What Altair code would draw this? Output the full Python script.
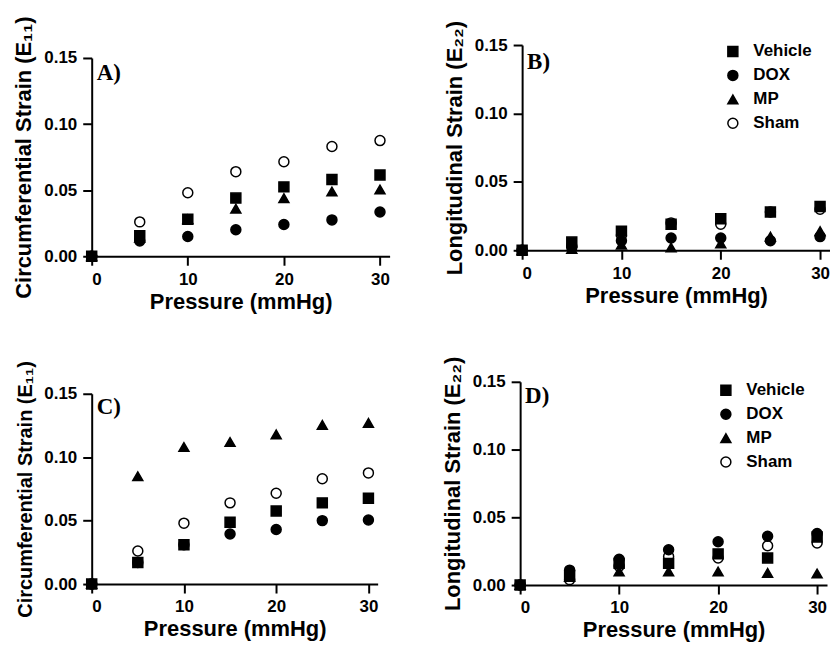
import altair as alt
import pandas as pd

pressure = [0, 5, 10, 15, 20, 25, 30]
groups = ["Vehicle", "DOX", "MP", "Sham"]
draw_order = ["Sham", "MP", "DOX", "Vehicle"]
shapes = ["square", "circle", "triangle-up", "circle"]
fills = ["black", "black", "black", "white"]
strokes = ["black", "black", "black", "black"]
panel_labels = ["A)", "B)", "C)", "D)"]

# Panel A: circumferential strain (E11)
a_vehicle = [0, 0.0155, 0.028, 0.044, 0.0525, 0.058, 0.0615]
a_dox = [0, 0.0115, 0.015, 0.020, 0.024, 0.0275, 0.0335]
a_mp = [0, 0.014, 0.028, 0.036, 0.044, 0.049, 0.0505]
a_sham = [0, 0.026, 0.048, 0.064, 0.0715, 0.083, 0.0875]

# Panel B: longitudinal strain (E22)
b_vehicle = [0, 0.006, 0.014, 0.019, 0.023, 0.028, 0.032]
b_dox = [0, 0.002, 0.007, 0.009, 0.009, 0.007, 0.010]
b_mp = [0, 0.001, 0.004, 0.002, 0.005, 0.010, 0.014]
b_sham = [0, 0.003, 0.011, 0.020, 0.019, 0.028, 0.030]

# Panel C: circumferential strain (E11)
c_vehicle = [0, 0.017, 0.031, 0.0487, 0.0576, 0.064, 0.0676]
c_dox = [0, 0.017, 0.031, 0.0395, 0.043, 0.050, 0.0505]
c_mp = [0, 0.085, 0.108, 0.112, 0.118, 0.1255, 0.127]
c_sham = [0, 0.026, 0.048, 0.064, 0.0716, 0.083, 0.0876]

# Panel D: longitudinal strain (E22)
d_vehicle = [0, 0.007, 0.016, 0.016, 0.023, 0.020, 0.0355]
d_dox = [0, 0.011, 0.019, 0.026, 0.032, 0.036, 0.038]
d_mp = [0, 0.006, 0.010, 0.010, 0.010, 0.009, 0.0085]
d_sham = [0, 0.004, 0.014, 0.021, 0.020, 0.029, 0.031]

y_e11 = "Circumferential Strain (E\u2081\u2081)"
y_e22 = "Longitudinal Strain (E\u2082\u2082)"


def make_df(series):
    rows = []
    for g in draw_order:
        for p, v in zip(pressure, series[g]):
            rows.append({"pressure": p, "strain": v, "group": g,
                         "draw": draw_order.index(g)})
    return pd.DataFrame(rows)


def panel(series, ytitle, label, w, h, top_off=0, ytitle_size=22, legend_xy=None,
          label_base=22, ytitle_pad=8):
    df = make_df(series)
    if legend_xy is None:
        leg = None
    else:
        leg = alt.Legend(title=None, orient="none", legendX=legend_xy[0],
                         legendY=legend_xy[1], labelFont="Liberation Sans",
                         labelFontWeight="bold", labelFontSize=17,
                         labelColor="black", symbolSize=100,
                         symbolStrokeWidth=1.5, symbolStrokeColor="black",
                         rowPadding=6, labelOffset=12, padding=0)
    view_h = h + top_off
    pts = alt.Chart(df).mark_point(
        filled=True, size=100, strokeWidth=1.5, opacity=1
    ).encode(
        x=alt.X("pressure:Q", scale=alt.Scale(domain=[0, 31], nice=False),
                axis=alt.Axis(values=[0, 10, 20, 30], title="Pressure (mmHg)",
                              titlePadding=4)),
        y=alt.Y("strain:Q",
                scale=alt.Scale(domain=[0, 0.15], nice=False, range=[view_h, top_off]),
                axis=alt.Axis(values=[0, 0.05, 0.10, 0.15], format=".2f",
                              title=ytitle, titleFontSize=ytitle_size,
                              titlePadding=ytitle_pad)),
        shape=alt.Shape("group:N", scale=alt.Scale(domain=groups, range=shapes),
                        legend=leg),
        fill=alt.Fill("group:N", scale=alt.Scale(domain=groups, range=fills),
                      legend=leg),
        stroke=alt.Stroke("group:N", scale=alt.Scale(domain=groups, range=strokes),
                          legend=leg),
        order=alt.Order("draw:Q"),
    )
    txt = alt.Chart(pd.DataFrame({"label": [label]})).mark_text(
        align="left", baseline="alphabetic", font="Liberation Serif",
        fontWeight="bold", fontSize=23, color="black"
    ).encode(x=alt.value(5), y=alt.value(top_off + label_base), text="label:N")
    return alt.layer(pts, txt).properties(width=w, height=view_h)


A = panel({"Vehicle": a_vehicle, "DOX": a_dox, "MP": a_mp, "Sham": a_sham},
          y_e11, panel_labels[0], 299, 199, top_off=13, ytitle_size=22)
B = panel({"Vehicle": b_vehicle, "DOX": b_dox, "MP": b_mp, "Sham": b_sham},
          y_e22, panel_labels[1], 309, 206, ytitle_size=22, legend_xy=(203, -2),
          label_base=24)
C = panel({"Vehicle": c_vehicle, "DOX": c_dox, "MP": c_mp, "Sham": c_sham},
          y_e11, panel_labels[2], 287, 191, top_off=12, ytitle_size=20,
          label_base=20)
D = panel({"Vehicle": d_vehicle, "DOX": d_dox, "MP": d_mp, "Sham": d_sham},
          y_e22, panel_labels[3], 308, 204, ytitle_size=22, legend_xy=(198, 0),
          label_base=21)

res = dict(shape="independent", fill="independent", stroke="independent")
top = alt.hconcat(A, B, spacing=53).resolve_scale(**res)
bottom = alt.hconcat(C, D, spacing=62).resolve_scale(**res)

chart = alt.vconcat(top, bottom, spacing=44).resolve_scale(**res).properties(
    background="white", padding={"left": 4, "top": 6, "right": 0, "bottom": 2}
).configure_view(stroke=None).configure_axis(
    grid=False,
    domainColor="black", domainWidth=2,
    tickColor="black", tickWidth=2, tickSize=9,
    labelFont="Liberation Sans", labelFontWeight="bold", labelFontSize=17,
    labelColor="black", labelPadding=6,
    titleFont="Liberation Sans", titleFontWeight="bold", titleFontSize=22,
    titleColor="black",
)

chart.save("out.html", embed_options={"renderer": "svg", "actions": False})
